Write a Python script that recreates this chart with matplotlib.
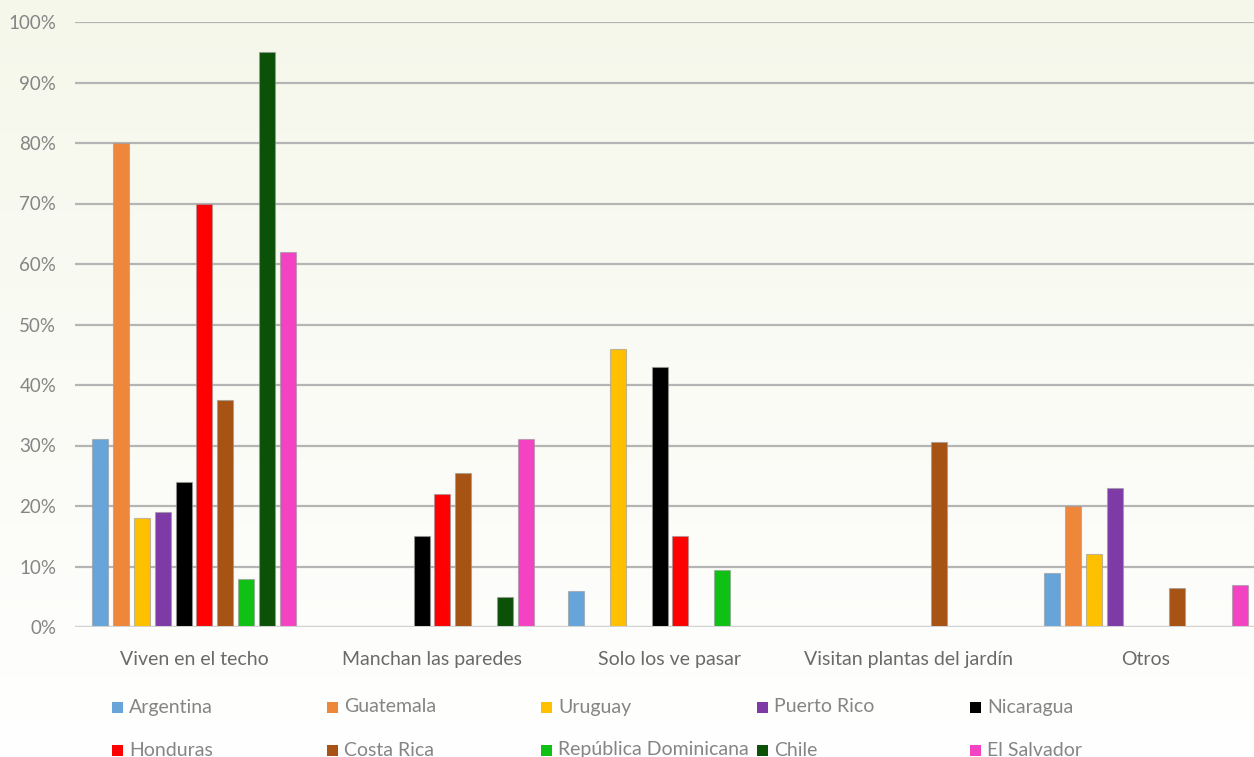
import numpy as np
import matplotlib
matplotlib.use("Agg")
import matplotlib.pyplot as plt
from matplotlib.patches import Rectangle

# data (percent)
categories = ["Viven en el techo", "Manchan las paredes", "Solo los ve pasar",
              "Visitan plantas del jardín", "Otros"]
countries = ["Argentina", "Guatemala", "Uruguay", "Puerto Rico", "Nicaragua",
             "Honduras", "Costa Rica", "República Dominicana", "Chile", "El Salvador"]
argentina = [31, 0, 6, 0, 9]
guatemala = [80, 0, 0, 0, 20]
uruguay = [18, 0, 46, 0, 12]
puerto_rico = [19, 0, 0, 0, 23]
nicaragua = [24, 15, 43, 0, 0]
honduras = [70, 22, 15, 0, 0]
costa_rica = [37.5, 25.5, 0, 30.5, 6.5]
rep_dominicana = [8, 0, 9.5, 0, 0]
chile = [95, 5, 0, 0, 0]
el_salvador = [62, 31, 0, 0, 7]
series = [argentina, guatemala, uruguay, puerto_rico, nicaragua,
          honduras, costa_rica, rep_dominicana, chile, el_salvador]
yticks = [0, 10, 20, 30, 40, 50, 60, 70, 80, 90, 100]

colors = ["#66A4D9", "#EF873B", "#FFC000", "#7E3BA8", "#000000",
          "#FF0000", "#A65314", "#0EC114", "#0B5108", "#F343C2"]

plt.rcParams['font.family'] = ['Lato', 'DejaVu Sans']

fig = plt.figure(figsize=(12.54, 7.57), dpi=100)

# background gradient (top light green-yellow -> white)
bg = fig.add_axes([0, 0, 1, 1], zorder=-10)
grad = np.linspace(0, 1, 256).reshape(-1, 1)
top = np.array([0.962, 0.970, 0.920])
bottom = np.array([1.0, 1.0, 1.0])
img = top * (1 - grad[..., None]) + bottom * grad[..., None]
img = np.repeat(img, 2, axis=1)
bg.imshow(img, aspect="auto", extent=[0, 1, 0, 1])
bg.axis("off")

W, H = 1254, 757
ax = fig.add_axes([75 / W, (H - 627) / H, 1190 / W, 605 / H])
ax.set_facecolor("none")

x = np.arange(len(categories))
slot = 0.0875
bw = 0.067
for i, vals in enumerate(series):
    ax.bar(x + (i - 4.5) * slot, vals, width=bw, color=colors[i],
           edgecolor=(0.6, 0.6, 0.6, 0.6), linewidth=0.8, zorder=3,
           label=countries[i])

ax.set_xlim(-0.5, len(categories) - 0.5)
ax.set_ylim(0, 100)
ax.set_yticks(yticks)
ax.set_yticklabels([f"{v}%" for v in yticks])
ax.set_xticks(x)
ax.set_xticklabels(categories)
ax.tick_params(axis="y", length=0, pad=13.5, labelsize=13.5, labelcolor="#858585")
ax.tick_params(axis="x", length=0, pad=17, labelsize=14, labelcolor="#6a6a6a")
for s in ax.spines.values():
    s.set_visible(False)
ax.grid(axis="y", color="#b5b5b5", linewidth=1.6, zorder=0)
ax.axhline(0, color="#d2d2d2", linewidth=2.2, zorder=4)

# legend laid out like the original (2 rows x 5 columns)
col_x = [112, 327, 541, 757, 970]
row_y = [707, 750]
for i, name in enumerate(countries):
    r, c = divmod(i, 5)
    px, py = col_x[c], row_y[r]
    fig.patches.append(Rectangle((px / W, (H - py - 5.5) / H), 11 / W, 11 / H,
                                 transform=fig.transFigure, facecolor=colors[i],
                                 edgecolor="none"))
    fig.text((px + 17) / W, (H - py) / H, name, fontsize=14, color="#858585",
             va="center", ha="left")

fig.savefig("out.png", dpi=100)
